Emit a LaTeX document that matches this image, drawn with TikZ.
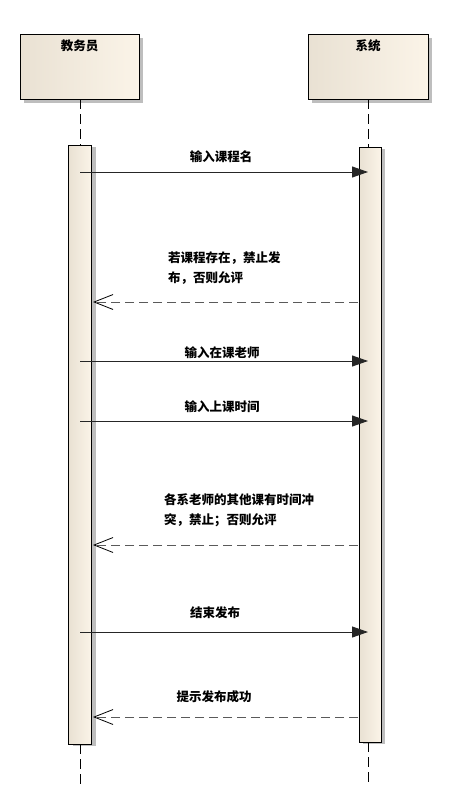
\documentclass[tikz,border=0pt]{standalone}
\usepackage{fontspec}
\newfontfamily\cjk{Noto Sans CJK SC}
\usetikzlibrary{arrows.meta,shadows}
\definecolor{boxL}{RGB}{233,225,211}
\definecolor{boxR}{RGB}{251,244,232}
\definecolor{shadegray}{RGB}{190,190,190}
\definecolor{retgray}{RGB}{90,90,90}
\tikzset{
  hdr/.style={draw=black, line width=0.9pt, left color=boxL, right color=boxR,
    minimum width=119pt, minimum height=65pt, inner sep=0pt,
    drop shadow={shadow xshift=4pt, shadow yshift=-4pt, fill=shadegray, opacity=1}},
  act/.style={draw=black, line width=0.9pt, left color=boxL, right color=boxR,
    minimum width=23pt, inner sep=0pt,
    drop shadow={shadow xshift=4pt, shadow yshift=-2pt, fill=shadegray, opacity=1}},
  lifeline/.style={draw=black, line width=0.8pt, dash pattern=on 10pt off 5pt},
  callmsg/.style={draw=black!85, line width=0.9pt, -{Triangle[length=16pt,width=11pt]}},
  retmsg/.style={draw=retgray, line width=0.9pt, dash pattern=on 9pt off 5pt,
    -{Straight Barb[length=19pt,width=15pt,line width=0.8pt, color=black]}},
  lbl/.style={font=\cjk\bfseries\fontsize{12.5}{20}\selectfont, inner sep=0pt, text=black},
}
\begin{document}
\begin{tikzpicture}[x=1pt,y=-1pt]
\useasboundingbox (0,0) rectangle (449,811);
% headers
\node[hdr, label={[lbl, anchor=north, yshift=-6pt]north:教务员}] (A) at (79.5,66.5) {};
\node[hdr, minimum width=120pt, label={[lbl, anchor=north, yshift=-6pt]north:系统}] (B) at (368,66.5) {};
% lifelines
\coordinate (Ltop) at (80,99);
\coordinate (Rtop) at (368,99);
\coordinate (Lbot) at (80,786);
\coordinate (Rbot) at (368,783);
\node[act, minimum height=599pt] (actL) at (80,444.5) {};
\node[act, minimum width=22pt, minimum height=595pt] (actR) at (370,444.5) {};
\draw[lifeline] (Ltop) -- (Ltop |- actL.north);
\draw[lifeline] (Rtop) -- (Rtop |- actR.north);
\draw[lifeline] (Lbot |- actL.south) -- (Lbot);
\draw[lifeline] (Rbot |- actR.south) -- (Rbot);
% message end points
\coordinate (m1a) at (80,172);  \coordinate (m1b) at (368,172);
\coordinate (m2a) at (358,302); \coordinate (m2b) at (93,302);
\coordinate (m3a) at (80,361);  \coordinate (m3b) at (368,361);
\coordinate (m4a) at (80,421);  \coordinate (m4b) at (368,421);
\coordinate (m5a) at (358,545); \coordinate (m5b) at (93,545);
\coordinate (m6a) at (80,632);  \coordinate (m6b) at (368,632);
\coordinate (m7a) at (358,717); \coordinate (m7b) at (93,717);
% messages
\draw[callmsg] (m1a) -- (m1b);
\node[lbl] (t1) at (221,157) {输入课程名};
\draw[retmsg] (m2a) -- (m2b);
\node[lbl, align=left, anchor=west] (t2) at (168,268) {若课程存在，禁止发\\布，否则允评};
\draw[callmsg] (m3a) -- (m3b);
\node[lbl] (t3) at (222,353) {输入在课老师};
\draw[callmsg] (m4a) -- (m4b);
\node[lbl] (t4) at (222,407) {输入上课时间};
\draw[retmsg] (m5a) -- (m5b);
\node[lbl, align=left, anchor=west] (t5) at (164,510) {各系老师的其他课有时间冲\\突，禁止；否则允评};
\draw[callmsg] (m6a) -- (m6b);
\node[lbl] (t6) at (215,613) {结束发布};
\draw[retmsg] (m7a) -- (m7b);
\node[lbl] (t7) at (214,697) {提示发布成功};
\end{tikzpicture}
\end{document}
